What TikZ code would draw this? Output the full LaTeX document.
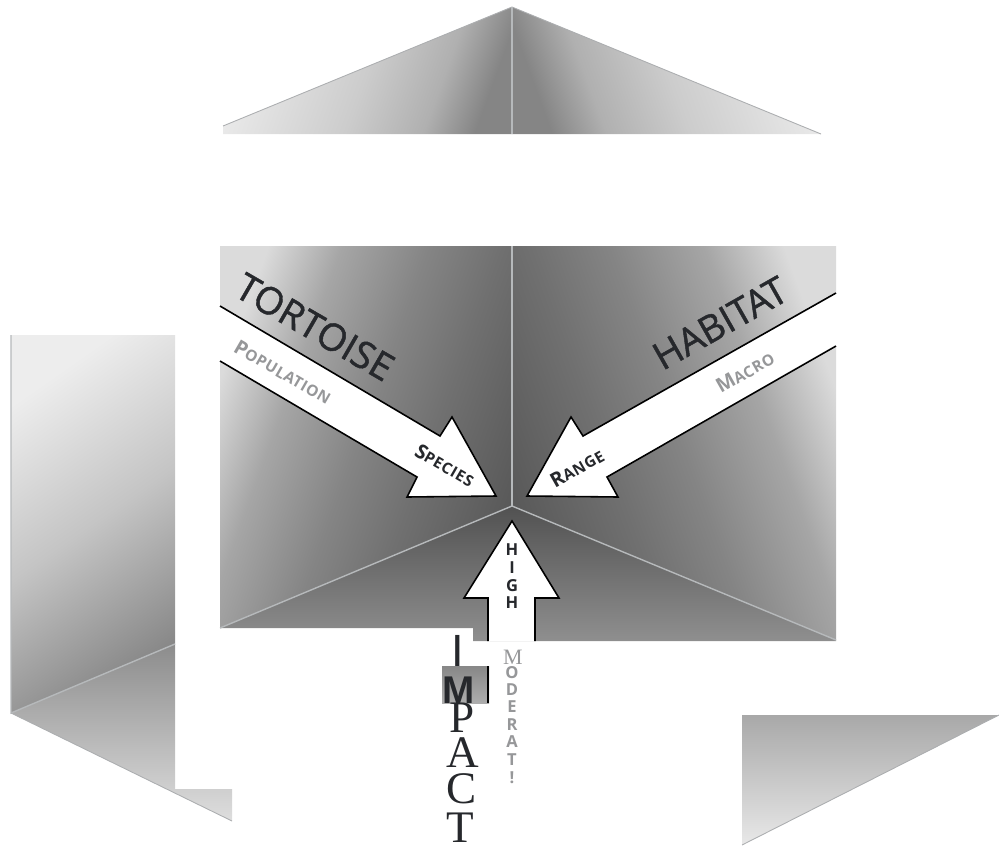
\documentclass[tikz,border=0pt]{standalone}
\usepackage{xcolor}
\usepackage{fontspec}
\setmainfont{Open Sans}
\newfontfamily\serifletter{Liberation Serif}
\newfontfamily\sansletter{Liberation Sans}
\usepackage{tikz}
\usetikzlibrary{shapes.geometric, positioning}
\definecolor{inkdark}{RGB}{38, 40, 44}
\definecolor{inkgrey}{RGB}{150, 151, 153}
\definecolor{seamgrey}{RGB}{182, 185, 187}
\definecolor{rimgrey}{RGB}{172, 174, 176}

\pgfdeclarehorizontalshading{wallshade}{100bp}{
  color(0bp)=(black!14); color(25bp)=(black!14); color(36bp)=(black!35);
  color(49bp)=(black!48); color(60bp)=(black!56); color(75bp)=(black!65); color(100bp)=(black!65)}
\pgfdeclarehorizontalshading{wallshademirror}{100bp}{
  color(0bp)=(black!65); color(25bp)=(black!65); color(40bp)=(black!56);
  color(51bp)=(black!48); color(64bp)=(black!35); color(75bp)=(black!14); color(100bp)=(black!14)}
\pgfdeclarehorizontalshading{roofshade}{100bp}{
  color(0bp)=(black!8); color(25bp)=(black!8); color(50bp)=(black!20);
  color(65bp)=(black!31); color(75bp)=(black!48); color(100bp)=(black!48)}
\pgfdeclarehorizontalshading{roofshademirror}{100bp}{
  color(0bp)=(black!48); color(25bp)=(black!48); color(35bp)=(black!31);
  color(50bp)=(black!20); color(75bp)=(black!8); color(100bp)=(black!8)}
\pgfdeclarehorizontalshading{sideshade}{100bp}{
  color(0bp)=(black!7); color(25bp)=(black!7); color(50bp)=(black!23);
  color(75bp)=(black!47); color(100bp)=(black!47)}

\newcommand{\capword}[2]{{\addfontfeature{LetterSpace=4}\fontsize{11.4}{11}\selectfont #1\fontsize{8.8}{9}\selectfont #2}}

\begin{document}
\begin{tikzpicture}[
    x=0.02cm, y=-0.02cm,
    seam/.style={draw=seamgrey, line width=0.8pt},
    rim/.style={draw=rimgrey, line width=0.5pt},
    whitearrow/.style={draw=black, line width=0.9pt, line join=miter},
    bigword/.style={font=\addfontfeature{FakeBold=1.2}\fontsize{21.5}{22}\selectfont, text=inkdark, inner sep=0pt},
    smallword/.style={font=\bfseries, text=inkgrey, inner sep=0pt},
    darkword/.style={font=\bfseries, text=inkdark, inner sep=0pt},
    highletter/.style={font=\bfseries\fontsize{9.4}{10}\selectfont, text=inkdark, inner sep=0pt},
    modletter/.style={font=\bfseries\fontsize{9.4}{10}\selectfont, text=inkgrey, inner sep=0pt},
    impactletter/.style={font=\serifletter\fontsize{25.7}{26}\selectfont, text=inkdark, inner sep=0pt}
]
    \useasboundingbox (0,0) rectangle (999,845);

    % top pieces
    \shade[shading=roofshade, shading angle=-20] (223,126) -- (512,7) -- (512,134) -- (223,134) -- cycle;
    \shade[shading=roofshademirror, shading angle=20] (512,7) -- (821,134) -- (512,134) -- cycle;
    \draw[rim] (223,126) -- (512,7) -- (821,134);
    \draw[seam] (512,7) -- (512,134);

    % middle walls
    \shade[top color=black!68, bottom color=black!44] (220,628) -- (512,506) -- (836,640) -- (836,641) -- (473,641) -- (473,628) -- cycle;
    \shade[shading=wallshade, shading angle=-20] (220,246) -- (512,246) -- (512,506) -- (220,628) -- cycle;
    \shade[shading=wallshademirror, shading angle=20] (512,246) -- (836,246) -- (836,640) -- (512,506) -- cycle;
    \draw[seam] (512,246) -- (512,506);
    \draw[seam] (220,628) -- (512,506) -- (836,640);

    % left side piece
    \shade[shading=sideshade, shading angle=-55] (11,335) -- (175,335) -- (175,644) -- (11,713) -- cycle;
    \shade[top color=black!45, bottom color=black!13] (11,713) -- (175,644) -- (175,789) -- (232,789) -- (232,821) -- cycle;
    \draw[seam] (11,335) -- (11,713) -- (175,644);
    \draw[rim] (11,713) -- (232,821);

    % lower right piece
    \shade[top color=black!34, bottom color=black!9] (742,715) -- (999,715) -- (742,845) -- cycle;
    \draw[rim] (999,715) -- (742,845);

    % patch under the impact word
    \shade[top color=black!47, bottom color=black!32] (442,666) rectangle (489,703);
    \draw[whitearrow] (488,666) -- (488,703);

    % arrows
    \fill[white] (220,306) -- (440,436) -- (452,417) -- (496,496) -- (407,497) -- (417,477) -- (220,361) -- cycle;
    \draw[whitearrow] (220,306) -- (440,436) -- (452,417) -- (496,496) -- (407,497) -- (417,477) -- (220,361);
    \fill[white] (837,293) -- (583,436) -- (571,417) -- (527,496) -- (618,497) -- (607,477) -- (837,346) -- cycle;
    \draw[whitearrow] (836,293) -- (583,436) -- (571,417) -- (527,496) -- (618,497) -- (607,477) -- (836,346);
    \fill[white] (488,641) -- (488,598) -- (464,598) -- (512,521) -- (559,598) -- (535,598) -- (535,641) -- cycle;
    \draw[whitearrow] (488,641) -- (488,598) -- (464,598) -- (512,521) -- (559,598) -- (535,598) -- (535,641);

    % words
    \node[bigword, rotate=-30] (tortoise) at (315,327) {TORTOISE};
    \node[bigword, rotate=29.5] (habitat) at (720,323) {HABITAT};
    \node[smallword, rotate=-30] (population) at (283,372) {\capword{P}{OPULATION}};
    \node[darkword, rotate=-30] (species) at (445,465) {\capword{S}{PECIES}};
    \node[smallword, rotate=29.5] (macro) at (745,372) {\capword{M}{ACRO}};
    \node[darkword, rotate=29.5] (range) at (577,468) {\capword{R}{ANGE}};

    \node[highletter] (high1) at (512,550) {H};
    \node[highletter] (high2) at (512,568) {I};
    \node[highletter] (high3) at (512,586) {G};
    \node[highletter] (high4) at (512,603) {H};

    \node[impactletter, font=\serifletter\fontsize{12.5}{13}\selectfont, text=inkgrey] (mod1) at (513,657) {M};
    \node[modletter] (mod2) at (512,673) {O};
    \node[modletter] (mod3) at (512,690) {D};
    \node[modletter] (mod4) at (512,707) {E};
    \node[modletter] (mod5) at (512,725) {R};
    \node[modletter] (mod6) at (512,742) {A};
    \node[modletter] (mod7) at (512,760) {T};
    \node[modletter] (mod8) at (512,778) {!};

    \node[impactletter, font=\sansletter\fontsize{25.7}{26}\selectfont] (impact1) at (458,651) {I};
    \node[impactletter, font=\sansletter\bfseries\fontsize{22}{22}\selectfont] (impact2) at (459,690) {M};
    \node[impactletter] (impact3) at (462,718) {P};
    \node[impactletter] (impact4) at (463,753) {A};
    \node[impactletter] (impact5) at (462,789) {C};
    \node[impactletter] (impact6) at (460,828) {T};
\end{tikzpicture}
\end{document}
